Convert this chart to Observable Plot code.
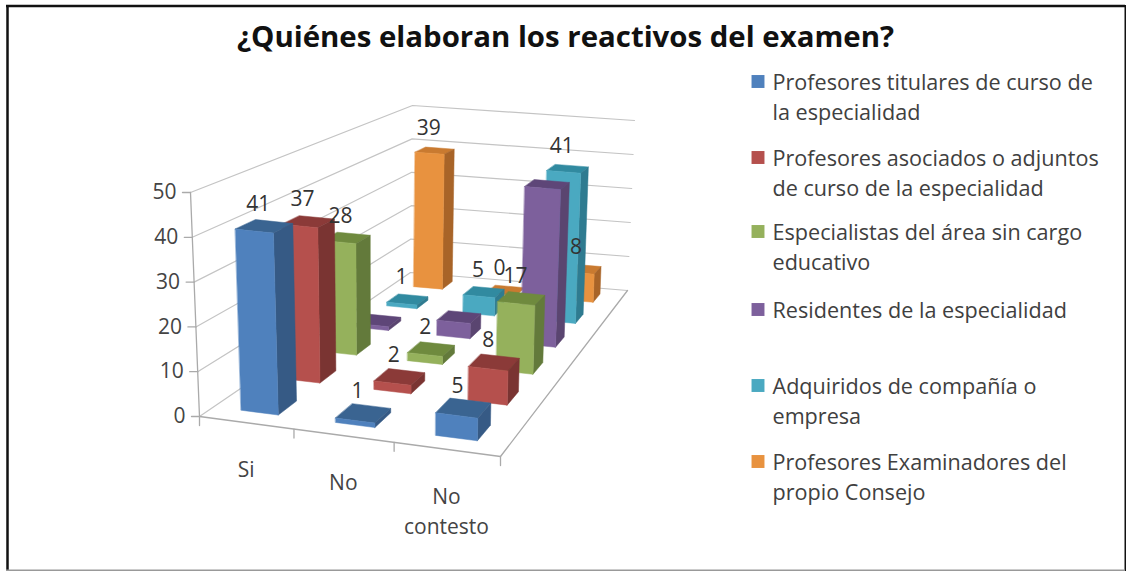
<!DOCTYPE html>
<html><head><meta charset="utf-8">
<style>html,body{margin:0;padding:0;background:#fff}svg{display:block}</style>
<script src="https://cdn.jsdelivr.net/npm/d3@7"></script>
<script src="https://cdn.jsdelivr.net/npm/@observablehq/plot@0.6"></script>
</head><body><div id="chart"></div>
<script>
const title = "¿Quiénes elaboran los reactivos del examen?";
const categories = ["Si", "No", "No\ncontesto"];
const series = ["Profesores titulares de curso de\nla especialidad", "Profesores asociados o adjuntos\nde curso de la especialidad", "Especialistas del área sin cargo\neducativo", "Residentes de la especialidad", "Adquiridos de compañía o\nempresa", "Profesores Examinadores del\npropio Consejo"];
const titulares = [41, 1, 5];
const asociados = [37, 2, 8];
const especialistas = [28, 2, 17];
const residentes = [1, 4, 41];
const adquiridos = [1, 5, 41];
const examinadores = [39, 0, 8];
const values = [titulares, asociados, especialistas, residentes, adquiridos, examinadores];
// which data labels the reference actually prints
const printed = [[1,1,1],[1,1,1],[1,1,1],[0,0,0],[1,1,1],[1,1,1]];
const yTicks = [0, 10, 20, 30, 40, 50];
const frontColors = ["#4f81bd", "#b5504d", "#95b15c", "#7d609c", "#4aa9c1", "#e8923f"];
const sideColors = ["#365a85", "#7a3432", "#637a3b", "#5a4570", "#2f7b90", "#a86428"];
const topColors = ["#3a6491", "#8b3a38", "#6f8a3e", "#5e4678", "#318aa0", "#c97a30"];

// perspective frame of the 3D box (layout, not data)
const floorQuad = [[199,416],[500,456],[627,290],[410,272]];
const roofQuad = [[190,192],[505,225],[634,120],[412,105]];
const legendRows = [82, 158, 232, 310, 386, 462];
const barHalfU = 0.2, barHalfV = 0.21;

function homography(q) {
  const [[x0,y0],[x1,y1],[x2,y2],[x3,y3]] = q;
  const dx1=x1-x2, dx2=x3-x2, sx=x0-x1+x2-x3, dy1=y1-y2, dy2=y3-y2, sy=y0-y1+y2-y3;
  const det=dx1*dy2-dx2*dy1;
  const g=(sx*dy2-dx2*sy)/det, h=(dx1*sy-sx*dy1)/det;
  const a=x1-x0+g*x1, b=x3-x0+h*x3, d=y1-y0+g*y1, e=y3-y0+h*y3;
  return (s,t)=>{const w=g*s+h*t+1; return [(a*s+b*t+x0)/w,(d*s+e*t+y0)/w];};
}
const floorH = homography(floorQuad), roofH = homography(roofQuad);
const nU = categories.length, nV = series.length, maxZ = 50;
function P(u,v,z){
  const a=floorH(u/nU,v/nV), b=roofH(u/nU,v/nV), k=z/maxZ;
  return [a[0]+(b[0]-a[0])*k, a[1]+(b[1]-a[1])*k];
}

const faces = [];
let fid = 0;
function face(pts, color){ fid++; for (const p of pts) faces.push({id:fid, x:p[0], y:p[1], color}); }
for (let s=nV-1; s>=0; s--) {
  for (let c=0; c<nU; c++) {
    const h=values[s][c], u0=c+.5-barHalfU, u1=c+.5+barHalfU, v0=s+.5-barHalfV, v1=s+.5+barHalfV;
    face([P(u0,v0,h),P(u1,v0,h),P(u1,v1,h),P(u0,v1,h)], topColors[s]);
    if (h>0) {
      face([P(u1,v0,0),P(u1,v1,0),P(u1,v1,h),P(u1,v0,h)], sideColors[s]);
      face([P(u0,v0,0),P(u1,v0,0),P(u1,v0,h),P(u0,v0,h)], frontColors[s]);
    }
  }
}
const grid = [];
for (const t of yTicks) for (const p of [P(0,0,t),P(0,nV,t),P(nU,nV,t)]) grid.push({t,x:p[0],y:p[1]});
const edges = [
  ...[P(0,0,0),P(0,0,maxZ)].map(p=>({k:"axis",x:p[0],y:p[1]})),
  ...[P(nU,nV,0),P(nU,0,0),P(0,0,0)].map(p=>({k:"floor",x:p[0],y:p[1]})),
  ...yTicks.flatMap(t=>{const p=P(0,0,t);return [{k:"y"+t,x:p[0]-8,y:p[1]},{k:"y"+t,x:p[0],y:p[1]}];}),
  ...d3.range(nU+1).flatMap(u=>{const p=P(u,0,0);return [{k:"u"+u,x:p[0],y:p[1]},{k:"u"+u,x:p[0],y:p[1]+9}];})
];
const dataLabels = [];
values.forEach((row,s)=>row.forEach((h,c)=>{ if(printed[s][c]){const p=P(c+.5,s+.5,h); dataLabels.push({x:p[0],y:p[1],text:String(h)});}}));
const yLabels = yTicks.map(t=>{const p=P(0,0,t);return {x:p[0],y:p[1],text:String(t)};});
const catLabels = categories.map((text,c)=>{const p=P(c+.5,0,0);return {x:p[0],y:p[1],text};});
const legend = series.map((text,s)=>({text,y:legendRows[s],color:frontColors[s]}));

const font = "'Open Sans', Lato, sans-serif";
const chart = Plot.plot({
  width:1126, height:571, margin:0,
  x:{domain:[0,1126],range:[0,1126],axis:null},
  y:{domain:[0,571],range:[0,571],axis:null},
  style:{fontFamily:font,background:"#fff"},
  marks:[
    Plot.ruleY([5.5],{x1:6,x2:1125,stroke:"#111",strokeWidth:2.5}),
    Plot.ruleX([7],{y1:5,y2:571,stroke:"#111",strokeWidth:2.5}),
    Plot.ruleX([1125],{y1:5,y2:571,stroke:"#111",strokeWidth:2}),
    Plot.ruleY([570],{x1:6,x2:1125,stroke:"#999",strokeWidth:2}),
    Plot.line(grid,{x:"x",y:"y",z:"t",stroke:"#c4c4c4",strokeWidth:1.2}),
    Plot.line(edges,{x:"x",y:"y",z:"k",stroke:"#aaaaaa",strokeWidth:1.3}),
    Plot.line(faces,{x:"x",y:"y",z:"id",fill:"color",stroke:"color",strokeWidth:.5,curve:"linear-closed"}),
    Plot.text(dataLabels,{x:"x",y:"y",text:"text",dx:-6,dy:-22,fontSize:21,fill:"#333"}),
    Plot.text(yLabels,{x:"x",y:"y",text:"text",dx:-14,textAnchor:"end",fontSize:21,fill:"#444"}),
    Plot.text(catLabels,{x:"x",y:"y",text:"text",dy:33,lineAnchor:"top",lineHeight:1.45,fontSize:21,fill:"#444"}),
    Plot.dot(legend,{x:757.5,y:"y",fill:"color",symbol:"square",r:7.3,dy:-1}),
    Plot.text(legend,{x:772,y:"y",text:"text",textAnchor:"start",lineAnchor:"top",fontSize:21.6,lineHeight:1.4,fill:"#404040",dy:-14}),
    Plot.text([title],{x:565,y:37,fontSize:29.4,fontWeight:"bold",fill:"#111"})
  ]
});
document.getElementById("chart").append(chart);
</script></body></html>
